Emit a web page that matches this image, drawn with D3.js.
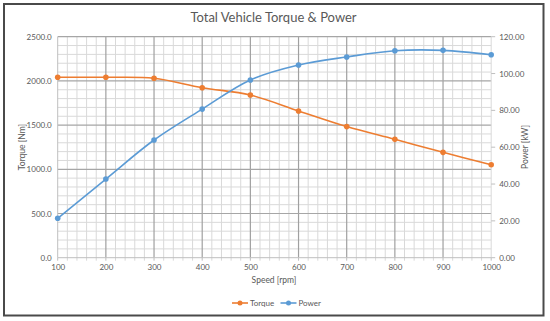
<!DOCTYPE html>
<html><head><meta charset="utf-8">
<script src="https://cdn.jsdelivr.net/npm/d3@7/dist/d3.min.js"></script>
<style>body{margin:0;background:#fff}svg{display:block}text{font-family:Lato,"Open Sans",sans-serif;fill:#595959}</style>
</head><body>
<svg id="c" width="550" height="321"></svg>
<script>
const speeds = [100,200,300,400,500,600,700,800,900,1000];
const torque = [2041,2041,2030,1923,1840,1660,1483,1339,1192,1052];
const power  = [21.4,42.7,63.9,80.7,96.5,104.6,109.0,112.4,112.6,110.2];
const torqueTicks = [0,500,1000,1500,2000,2500];
const powerTicks = [0,20,40,60,80,100,120];
const xTicks = [100,200,300,400,500,600,700,800,900,1000];

const svg = d3.select("#c");
const L = 57.7, R = 491.2, T = 36.7, B = 257.7;
const x = d3.scaleLinear().domain([100,1000]).range([L,R]);
const yT = d3.scaleLinear().domain([0,2500]).range([B,T]);
const yP = d3.scaleLinear().domain([0,120]).range([B,T]);

svg.append("rect").attr("x",0).attr("y",0).attr("width",550).attr("height",321).attr("fill","#fff");
svg.append("rect").attr("x",4).attr("y",4).attr("width",539.5).attr("height",311.5)
  .attr("fill","none").attr("stroke","#4a4a4a").attr("stroke-width",2);

const g = svg.append("g");
// minor grid
const minorX = d3.range(100,1001,20).filter(v=>v%100!==0);
const minorY = d3.range(0,2501,100).filter(v=>v%500!==0);
g.selectAll(".mx").data(minorX).join("line").attr("x1",d=>x(d)).attr("x2",d=>x(d)).attr("y1",T).attr("y2",B+3)
  .attr("stroke","#d9d9d9").attr("stroke-width",1);
g.selectAll(".my").data(minorY).join("line").attr("x1",L).attr("x2",R).attr("y1",d=>yT(d)).attr("y2",d=>yT(d))
  .attr("stroke","#d9d9d9").attr("stroke-width",1);
// major grid
g.selectAll(".Mx").data(xTicks.slice(1,-1)).join("line").attr("x1",d=>x(d)).attr("x2",d=>x(d)).attr("y1",T).attr("y2",B)
  .attr("stroke","#a0a0a0").attr("stroke-width",1.2);
g.selectAll(".My").data(torqueTicks.slice(1)).join("line").attr("x1",L).attr("x2",R).attr("y1",d=>yT(d)).attr("y2",d=>yT(d))
  .attr("stroke","#a6a6a6").attr("stroke-width",1.2);
// axes lines
g.append("line").attr("x1",L).attr("x2",L).attr("y1",T).attr("y2",B).attr("stroke","#bfbfbf");
g.append("line").attr("x1",R).attr("x2",R).attr("y1",T).attr("y2",B).attr("stroke","#d9d9d9");
g.append("line").attr("x1",L).attr("x2",R).attr("y1",B).attr("y2",B).attr("stroke","#bfbfbf");
g.selectAll(".xt").data(xTicks).join("line").attr("x1",d=>x(d)).attr("x2",d=>x(d)).attr("y1",B).attr("y2",B+3).attr("stroke","#bfbfbf");
g.selectAll(".rt").data(powerTicks).join("line").attr("x1",R).attr("x2",R+4).attr("y1",d=>yP(d)).attr("y2",d=>yP(d)).attr("stroke","#bfbfbf");

// axes labels via d3 axes (text only)
const fs = "8px";
const axL = svg.append("g").attr("transform",`translate(${L},0)`).call(d3.axisLeft(yT).tickValues(torqueTicks).tickFormat(d3.format(".1f")).tickSize(0).tickPadding(6));
const axR = svg.append("g").attr("transform",`translate(${R},0)`).call(d3.axisRight(yP).tickValues(powerTicks).tickFormat(d3.format(".2f")).tickSize(0).tickPadding(8));
const axB = svg.append("g").attr("transform",`translate(0,${B})`).call(d3.axisBottom(x).tickValues(xTicks).tickFormat(d3.format("d")).tickSize(0).tickPadding(7));
[axL,axR,axB].forEach(a=>{a.select(".domain").remove();a.selectAll("text").attr("font-size",fs).style("fill","#595959").attr("font-family",null);});

// titles
svg.append("text").attr("x",273.5).attr("y",22).attr("text-anchor","middle").attr("font-size","13px").text("Total Vehicle Torque & Power");
svg.append("text").attr("x",274).attr("y",283).attr("text-anchor","middle").attr("font-size","8.5px").text("Speed [rpm]");
svg.append("text").attr("transform",`translate(25,147) rotate(-90)`).attr("text-anchor","middle").attr("font-size","8.5px").text("Torque [Nm]");
svg.append("text").attr("transform",`translate(528,147) rotate(-90)`).attr("text-anchor","middle").attr("font-size","8.5px").text("Power [kW]");

// series
const curve = d3.curveCatmullRom.alpha(0.5);
const lineT = d3.line().x((d,i)=>x(speeds[i])).y(d=>yT(d)).curve(curve);
const lineP = d3.line().x((d,i)=>x(speeds[i])).y(d=>yP(d)).curve(curve);
const cT = "#ED7D31", cP = "#5B9BD5";
svg.append("path").attr("d",lineT(torque)).attr("fill","none").attr("stroke",cT).attr("stroke-width",1.6);
svg.append("path").attr("d",lineP(power)).attr("fill","none").attr("stroke",cP).attr("stroke-width",1.6);
svg.selectAll(".pt").data(torque).join("circle").attr("cx",(d,i)=>x(speeds[i])).attr("cy",d=>yT(d)).attr("r",2.8).attr("fill",cT);
svg.selectAll(".pp").data(power).join("circle").attr("cx",(d,i)=>x(speeds[i])).attr("cy",d=>yP(d)).attr("r",2.8).attr("fill",cP);

// legend
const leg = [{n:"Torque",c:cT,x:232},{n:"Power",c:cP,x:280.5}];
leg.forEach(l=>{
  svg.append("line").attr("x1",l.x).attr("x2",l.x+16).attr("y1",303).attr("y2",303).attr("stroke",l.c).attr("stroke-width",1.6);
  svg.append("circle").attr("cx",l.x+8).attr("cy",303).attr("r",2.5).attr("fill",l.c);
  svg.append("text").attr("x",l.x+18).attr("y",306).attr("font-size","8px").text(l.n);
});
</script>
</body></html>
